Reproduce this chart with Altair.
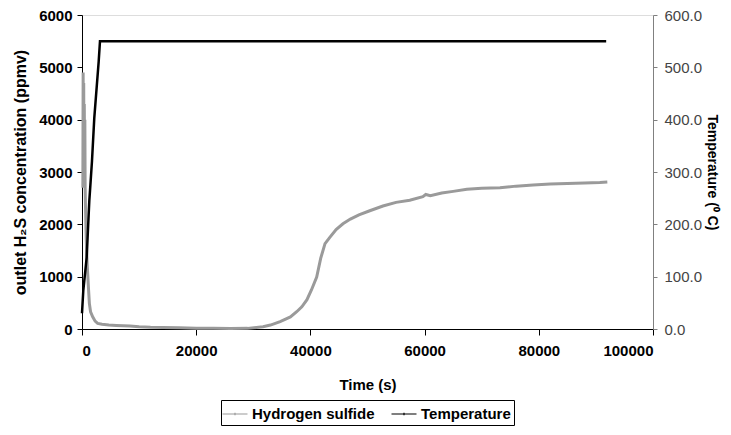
import altair as alt
import pandas as pd

# Hydrogen sulfide outlet concentration (ppmv) vs time (s)
h2s_time = [150, 200, 250, 300, 350, 400, 450, 500, 550, 600, 700, 800, 900, 1000,
            1150, 1290, 1500, 1870, 2300, 2740, 3500, 4700, 6000, 8400, 10000, 12000,
            14200, 17000, 20000, 23000, 26000, 29000, 31700, 33000, 34700, 36500,
            37600, 38500, 39400, 40200, 41100, 41800, 42560, 43400, 44500, 45700,
            47000, 48500, 50400, 52700, 55000, 57400, 59700, 60200, 61000, 63000,
            65000, 67400, 70000, 73200, 76000, 79000, 82000, 85000, 88000, 90700, 92000]
h2s_ppmv = [2700, 4900, 3000, 4700, 2800, 4300, 3300, 4000, 2700, 2400, 1900, 1500, 1250, 1050,
            750, 490, 330, 234, 150, 108, 90, 76, 68, 57, 45, 35,
            30, 22, 15, 12, 10, 12, 45, 75, 140, 230,
            330, 425, 560, 750, 993, 1350, 1630, 1750, 1900, 2010,
            2100, 2180, 2260, 2350, 2420, 2460, 2530, 2570, 2545, 2600,
            2630, 2670, 2690, 2700, 2730, 2750, 2770, 2780, 2790, 2800, 2810]

# Temperature (deg C) vs time (s)
temp_time = [0, 230, 820, 1280, 1400, 1750, 2150, 2920, 3150, 20000, 40000, 60000, 80000, 91800]
temp_c = [30, 74, 137, 245, 264, 321, 403, 511, 550, 550, 550, 550, 550, 550]

series_names = ["Hydrogen sulfide", "Temperature"]
series_colors = ["#9a9a9a", "#000000"]

h2s = pd.DataFrame({"t": h2s_time, "v": h2s_ppmv, "series": series_names[0]})
temp = pd.DataFrame({"t": temp_time, "v": temp_c, "series": series_names[1]})

FONT = "Liberation Sans"

color = alt.Color(
    "series:N",
    scale=alt.Scale(domain=series_names, range=series_colors),
    legend=alt.Legend(
        title=None,
        orient="none",
        legendX=139,
        legendY=385,
        direction="horizontal",
        strokeColor="black",
        padding=3,
        symbolType="M-1.25,0H1.25M0,-0.12V0.12",
        symbolSize=400,
        symbolStrokeWidth=1.2,
        labelFont=FONT,
        labelFontSize=15,
        labelFontWeight="bold",
        labelColor="black",
        labelOffset=6,
        columnPadding=14,
    ),
)

x = alt.X(
    "t:Q",
    scale=alt.Scale(domain=[0, 100000], nice=False),
    axis=alt.Axis(
        title="Time (s)",
        values=[0, 20000, 40000, 60000, 80000, 100000],
        format="d",
        grid=False,
        domainColor="black",
        tickColor="black",
        tickSize=6,
        labelPadding=8,
        labelFont=FONT,
        labelFontSize=15,
        labelFontWeight="bold",
        labelColor="black",
        titleFont=FONT,
        titleFontSize=15,
        titleFontWeight="bold",
        titleColor="black",
        titlePadding=19,
    ),
)

left = alt.Chart(h2s).mark_line(strokeWidth=3).encode(
    x=x,
    y=alt.Y(
        "v:Q",
        scale=alt.Scale(domain=[0, 6000], nice=False),
        axis=alt.Axis(
            orient="left",
            title="outlet H₂S concentration (ppmv)",
            values=[0, 1000, 2000, 3000, 4000, 5000, 6000],
            format="d",
            grid=False,
            domainColor="black",
            tickColor="black",
            tickSize=5,
            labelPadding=5,
            labelFont=FONT,
            labelFontSize=15,
            labelFontWeight="bold",
            labelColor="black",
            titleFont=FONT,
            titleFontSize=16,
            titleFontWeight="bold",
            titleColor="black",
            titlePadding=10,
        ),
    ),
    color=color,
)

right = alt.Chart(temp).mark_line(strokeWidth=2.5).encode(
    x=x,
    y=alt.Y(
        "v:Q",
        scale=alt.Scale(domain=[0, 600], nice=False),
        axis=alt.Axis(
            orient="right",
            title="Temperature (⁰ C)",
            values=[0, 100, 200, 300, 400, 500, 600],
            format=".1f",
            grid=False,
            domainColor="#808080",
            tickColor="#808080",
            tickSize=4,
            labelPadding=7,
            labelFont=FONT,
            labelFontSize=15,
            labelFontWeight="normal",
            labelColor="#444444",
            titleFont=FONT,
            titleFontSize=14,
            titleFontWeight="bold",
            titleColor="black",
            titlePadding=3,
        ),
    ),
    color=color,
)

chart = (
    alt.layer(left, right)
    .resolve_scale(y="independent")
    .properties(
        width=571,
        height=314,
        autosize=alt.AutoSizeParams(type="none"),
        padding={"left": 74, "top": 7, "right": 70, "bottom": 98},
    )
    .configure_view(stroke="#888888", strokeWidth=1)
    .configure(background="white")
)

chart.save("out.html", embed_options={"renderer": "svg", "actions": False})
